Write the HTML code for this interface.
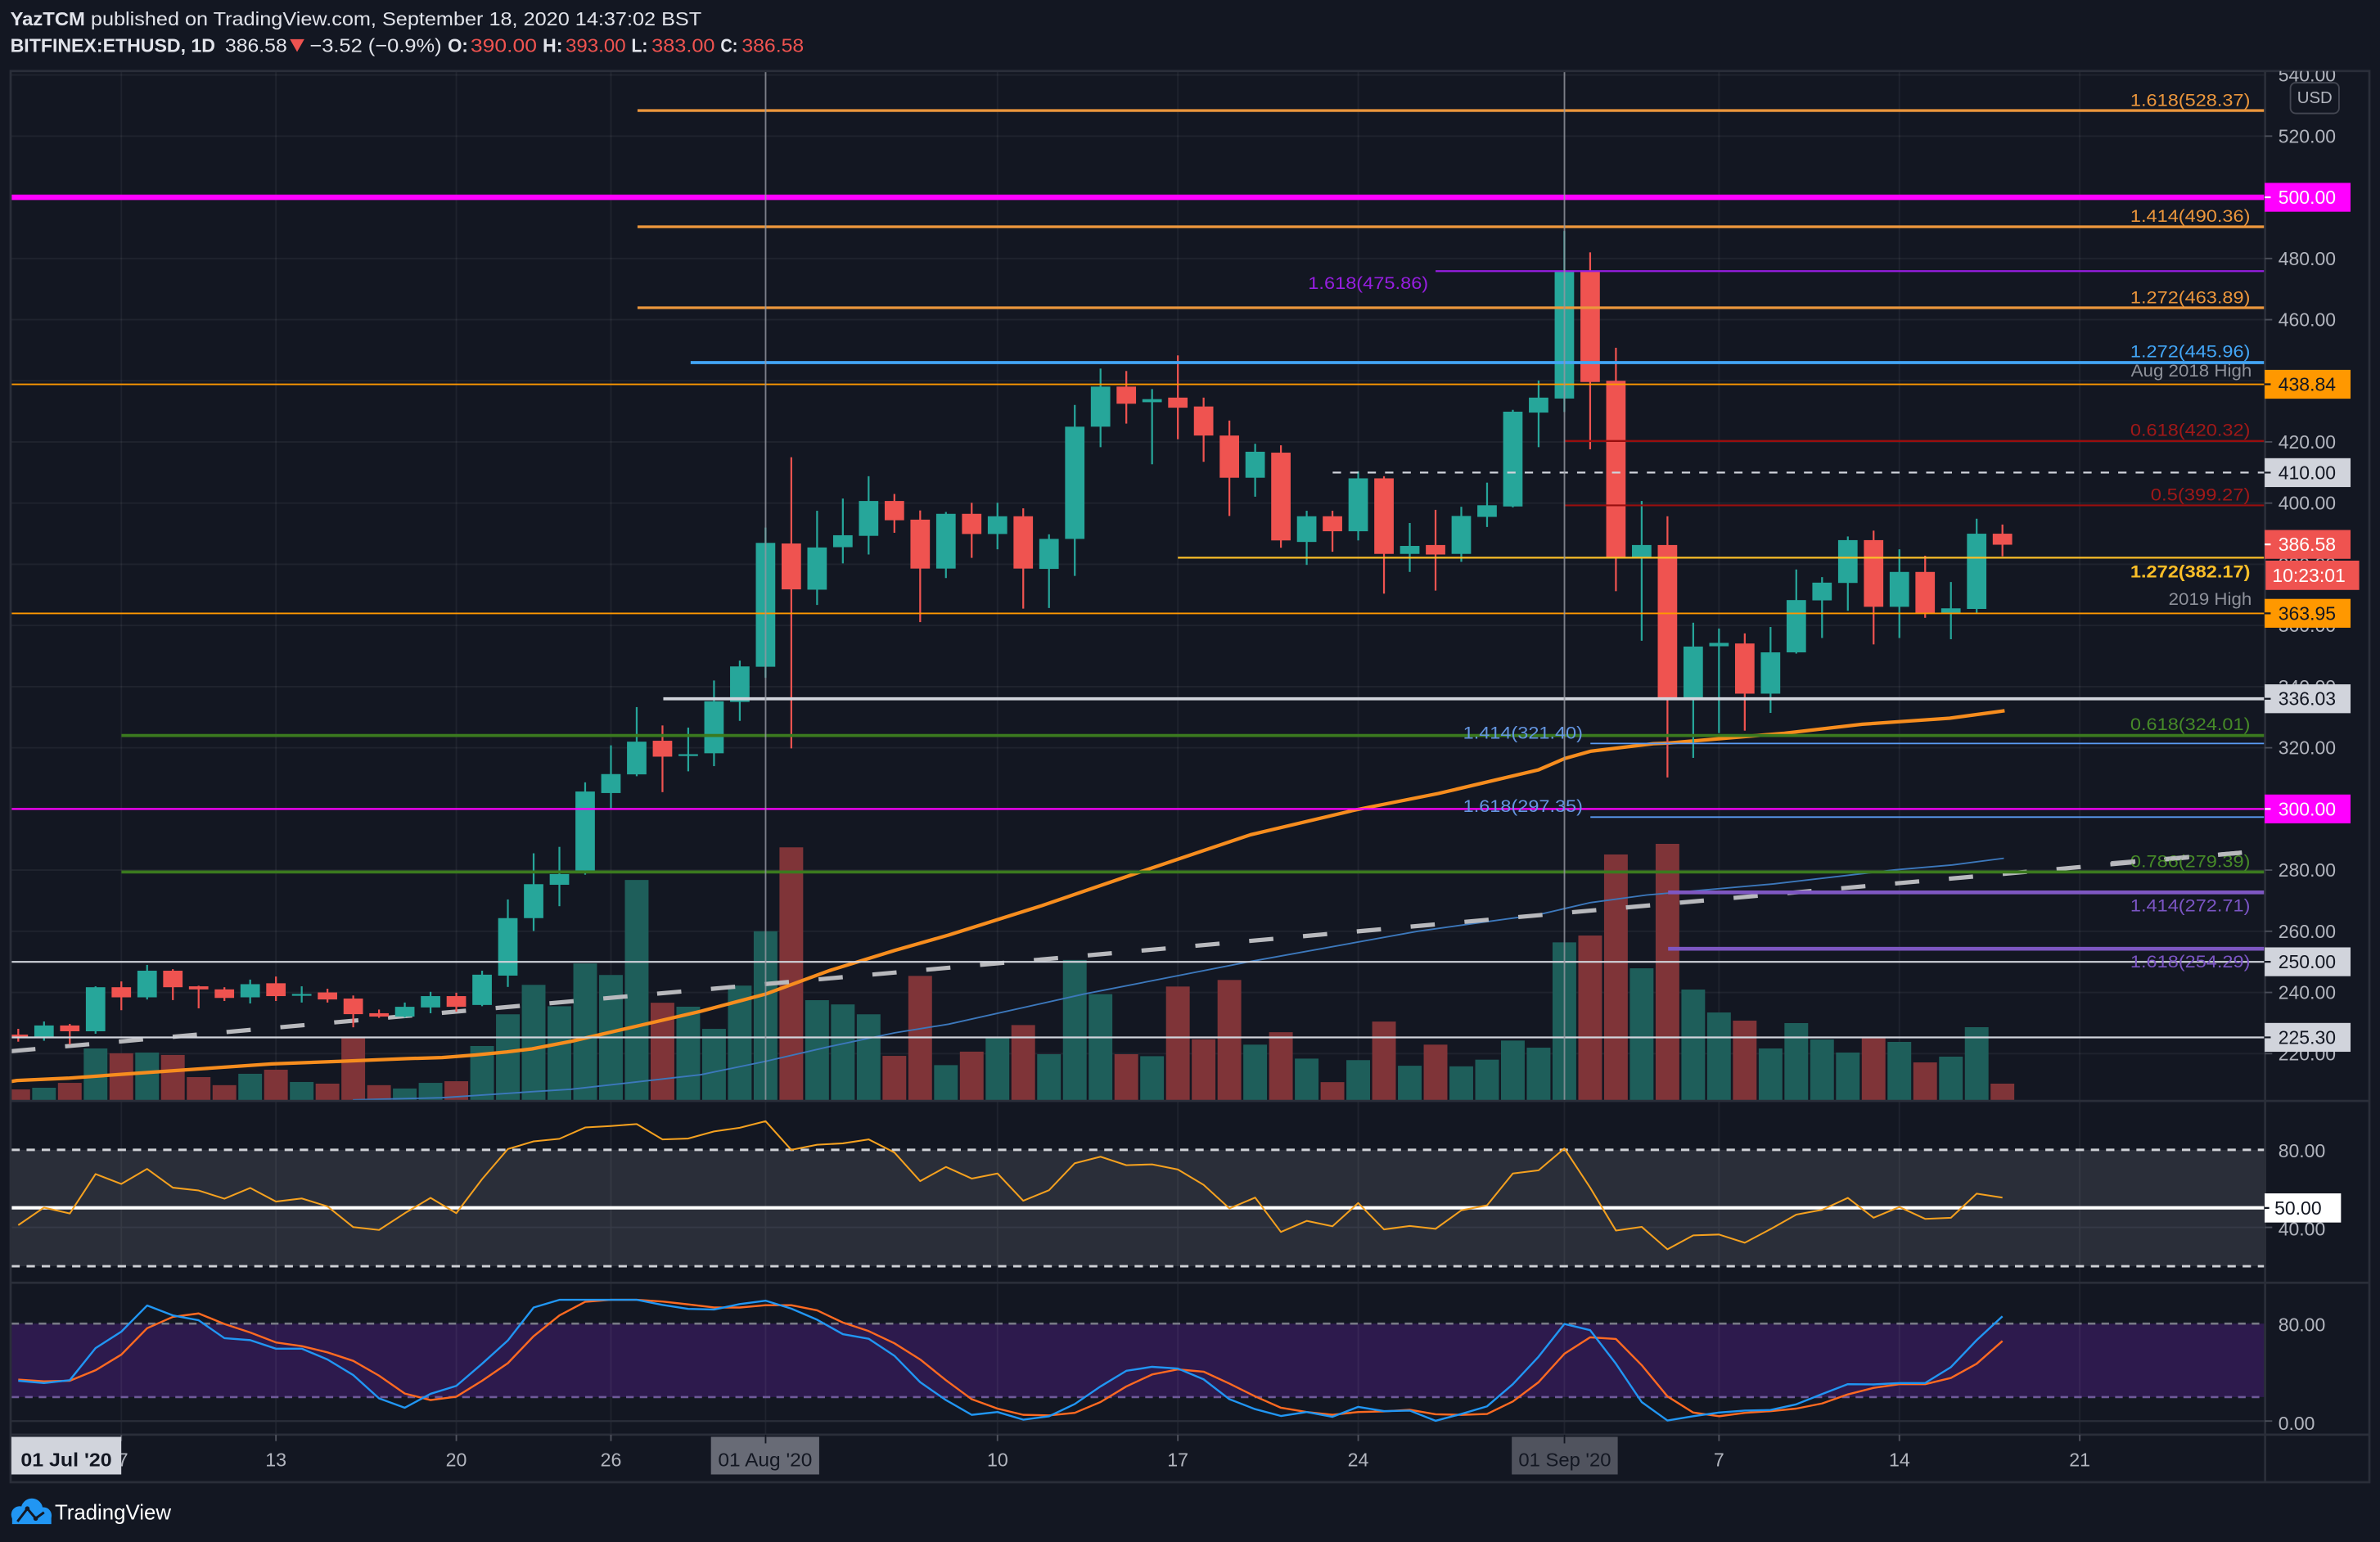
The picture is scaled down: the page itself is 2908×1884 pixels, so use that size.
<!DOCTYPE html>
<html><head><meta charset="utf-8">
<style>
html,body{margin:0;padding:0;background:#131722;overflow:hidden;}
svg{display:block}
text{font-family:"Liberation Sans",sans-serif;}
</style></head>
<body>
<svg id="c" width="2908" height="1884" viewBox="0 0 1568 1016" preserveAspectRatio="none">
<rect x="0" y="0" width="1568" height="1016" fill="#131722"/>
<defs>
<clipPath id="mp"><rect x="7.5" y="46.8" width="1484.5" height="678.6"/></clipPath>
<clipPath id="ip"><rect x="7.5" y="725.4" width="1484.5" height="219.9"/></clipPath>
<clipPath id="ax"><rect x="1492" y="46.8" width="69" height="930"/></clipPath>
</defs>

<!-- header -->
<text x="6.8" y="16.7" font-size="12.5" font-weight="bold" fill="#e1e3ea" textLength="49.2" lengthAdjust="spacingAndGlyphs">YazTCM</text>
<text x="59.8" y="16.7" font-size="12.5" fill="#e1e3ea" textLength="402.4" lengthAdjust="spacingAndGlyphs">published on TradingView.com, September 18, 2020 14:37:02 BST</text>
<text x="6.8" y="34.2" font-size="12.5" font-weight="bold" fill="#e1e3ea" textLength="135" lengthAdjust="spacingAndGlyphs">BITFINEX:ETHUSD, 1D</text>
<text x="148.3" y="34.2" font-size="12.5" fill="#e1e3ea" textLength="40.8" lengthAdjust="spacingAndGlyphs">386.58</text>
<polygon points="191,25.8 200.5,25.8 195.75,34.2" fill="#ef5350"/>
<text x="204" y="34.2" font-size="12.5" fill="#e1e3ea" textLength="87" lengthAdjust="spacingAndGlyphs">−3.52 (−0.9%)</text>
<text x="295" y="34.2" font-size="12.5" font-weight="bold" fill="#e1e3ea" textLength="13.3" lengthAdjust="spacingAndGlyphs">O:</text>
<text x="310" y="34.2" font-size="12.5" fill="#ef5350" textLength="43.7" lengthAdjust="spacingAndGlyphs">390.00</text>
<text x="357.5" y="34.2" font-size="12.5" font-weight="bold" fill="#e1e3ea" textLength="13.2" lengthAdjust="spacingAndGlyphs">H:</text>
<text x="372.6" y="34.2" font-size="12.5" fill="#ef5350" textLength="39.7" lengthAdjust="spacingAndGlyphs">393.00</text>
<text x="416" y="34.2" font-size="12.5" font-weight="bold" fill="#e1e3ea" textLength="10.7" lengthAdjust="spacingAndGlyphs">L:</text>
<text x="429.3" y="34.2" font-size="12.5" fill="#ef5350" textLength="41.7" lengthAdjust="spacingAndGlyphs">383.00</text>
<text x="474.7" y="34.2" font-size="12.5" font-weight="bold" fill="#e1e3ea" textLength="11.3" lengthAdjust="spacingAndGlyphs">C:</text>
<text x="488.7" y="34.2" font-size="12.5" fill="#ef5350" textLength="40.9" lengthAdjust="spacingAndGlyphs">386.58</text>

<!-- bands -->
<rect x="7.5" y="757.6" width="1484.5" height="76.7" fill="#2a2e39"/>
<rect x="7.5" y="872.1" width="1484.5" height="48.4" fill="#2d1a4d"/>

<g id="grid"></g>

<!-- RSI / stoch static lines -->
<line x1="7.5" y1="808.7" x2="1492" y2="808.7" stroke="#363a46" stroke-width="1"/>
<line x1="7.5" y1="757.6" x2="1492" y2="757.6" stroke="#cfd1d6" stroke-width="1.6" stroke-dasharray="5.5 4.5"/>
<line x1="7.5" y1="834.3" x2="1492" y2="834.3" stroke="#cfd1d6" stroke-width="1.6" stroke-dasharray="5.5 4.5"/>
<line x1="7.5" y1="795.8" x2="1492" y2="795.8" stroke="#ffffff" stroke-width="2.2"/>
<line x1="7.5" y1="936.3" x2="1492" y2="936.3" stroke="#2a2e39" stroke-width="1.2"/>
<line x1="7.5" y1="872.1" x2="1492" y2="872.1" stroke="#787b86" stroke-width="1.4" stroke-dasharray="5 4"/>
<line x1="7.5" y1="920.5" x2="1492" y2="920.5" stroke="#6f5a9a" stroke-width="1.4" stroke-dasharray="5 4"/>

<g clip-path="url(#ip)"><g id="ind"></g></g>

<g clip-path="url(#mp)">
  <g id="vol"></g>
  <g id="ma"></g>
  <g id="cdl"></g>
  <!-- levels -->
  <line x1="420" y1="72.83" x2="1492" y2="72.83" stroke="#eb963c" stroke-width="1.8"/>
  <line x1="7.5" y1="130" x2="1492" y2="130" stroke="#ff00ff" stroke-width="3.6"/>
  <line x1="420" y1="149.42" x2="1492" y2="149.42" stroke="#eb963c" stroke-width="1.8"/>
  <line x1="945.8" y1="178.64" x2="1492" y2="178.64" stroke="#961ee0" stroke-width="1.2"/>
  <line x1="420" y1="202.76" x2="1492" y2="202.76" stroke="#eb963c" stroke-width="1.8"/>
  <line x1="455" y1="238.89" x2="1492" y2="238.89" stroke="#42a5f5" stroke-width="2"/>
  <line x1="7.5" y1="253.24" x2="1492" y2="253.24" stroke="#ff9800" stroke-width="1"/>
  <line x1="1031" y1="290.55" x2="1492" y2="290.55" stroke="#980f0f" stroke-width="1.3"/>
  <line x1="878" y1="311.35" x2="1492" y2="311.35" stroke="#d1d4dc" stroke-width="1.2" stroke-dasharray="5.5 6"/>
  <line x1="1031" y1="332.97" x2="1492" y2="332.97" stroke="#980f0f" stroke-width="1.1"/>
  <line x1="776" y1="367.43" x2="1492" y2="367.43" stroke="#fabe28" stroke-width="1.2"/>
  <line x1="7.5" y1="404.14" x2="1492" y2="404.14" stroke="#ff9800" stroke-width="1"/>
  <line x1="437" y1="460.4" x2="1492" y2="460.4" stroke="#d1d4dc" stroke-width="2"/>
  <line x1="80" y1="484.62" x2="1492" y2="484.62" stroke="#3b7a1f" stroke-width="2"/>
  <line x1="1047.8" y1="489.87" x2="1492" y2="489.87" stroke="#5b9cf6" stroke-width="1"/>
  <line x1="7.5" y1="533" x2="1492" y2="533" stroke="#ff00ff" stroke-width="1.2"/>
  <line x1="1047.8" y1="538.34" x2="1492" y2="538.34" stroke="#5b9cf6" stroke-width="1"/>
  <line x1="80" y1="574.53" x2="1492" y2="574.53" stroke="#3b7a1f" stroke-width="2"/>
  <line x1="1099" y1="587.99" x2="1492" y2="587.99" stroke="#7e57c2" stroke-width="2.5"/>
  <line x1="1099" y1="625.11" x2="1492" y2="625.11" stroke="#7e57c2" stroke-width="2.5"/>
  <line x1="7.5" y1="633.75" x2="1492" y2="633.75" stroke="#d1d4dc" stroke-width="1.2"/>
  <line x1="7.5" y1="683.52" x2="1492" y2="683.52" stroke="#d1d4dc" stroke-width="1.2"/>
  <!-- vertical marker lines -->
  <line x1="504.4" y1="46.8" x2="504.4" y2="725.4" stroke="#9598a1" stroke-width="1" opacity="0.8"/>
  <line x1="1030.7" y1="46.8" x2="1030.7" y2="725.4" stroke="#9598a1" stroke-width="1" opacity="0.8"/>
  <!-- fib labels -->
  <g font-size="11.5" text-anchor="end" dominant-baseline="central">
    <text x="1482.5" y="66.1" fill="#eb963c" textLength="79" lengthAdjust="spacingAndGlyphs">1.618(528.37)</text>
    <text x="1482.5" y="142.4" fill="#eb963c" textLength="79" lengthAdjust="spacingAndGlyphs">1.414(490.36)</text>
    <text x="1482.5" y="196.1" fill="#eb963c" textLength="79" lengthAdjust="spacingAndGlyphs">1.272(463.89)</text>
    <text x="1482.5" y="231.7" fill="#42a5f5" textLength="79" lengthAdjust="spacingAndGlyphs">1.272(445.96)</text>
    <text x="1483.5" y="244.3" fill="#8e919a" textLength="79.6" lengthAdjust="spacingAndGlyphs">Aug 2018 High</text>
    <text x="1482.5" y="283.5" fill="#a01818" textLength="79" lengthAdjust="spacingAndGlyphs">0.618(420.32)</text>
    <text x="1482.5" y="326" fill="#a01818" textLength="65.6" lengthAdjust="spacingAndGlyphs">0.5(399.27)</text>
    <text x="1482.5" y="376.6" fill="#fabe28" font-weight="bold" textLength="79" lengthAdjust="spacingAndGlyphs">1.272(382.17)</text>
    <text x="1483.5" y="394.7" fill="#8e919a" textLength="54.8" lengthAdjust="spacingAndGlyphs">2019 High</text>
    <text x="1482.5" y="477.2" fill="#468a28" textLength="79" lengthAdjust="spacingAndGlyphs">0.618(324.01)</text>
    <text x="1482.5" y="567.7" fill="#468a28" textLength="79" lengthAdjust="spacingAndGlyphs">0.786(279.39)</text>
    <text x="1482.5" y="596.8" fill="#7b55c4" textLength="79" lengthAdjust="spacingAndGlyphs">1.414(272.71)</text>
    <text x="1482.5" y="633.7" fill="#7b55c4" textLength="79" lengthAdjust="spacingAndGlyphs">1.618(254.29)</text>
  </g>
  <g font-size="11.5" dominant-baseline="central">
    <text x="861.8" y="186.6" fill="#961ee0" textLength="79.2" lengthAdjust="spacingAndGlyphs">1.618(475.86)</text>
    <text x="963.9" y="482.9" fill="#6496e1" textLength="78.9" lengthAdjust="spacingAndGlyphs">1.414(321.40)</text>
    <text x="963.9" y="531.2" fill="#6496e1" textLength="78.9" lengthAdjust="spacingAndGlyphs">1.618(297.35)</text>
  </g>
  <g id="dash"></g>
</g>

<!-- frame / separators -->
<g fill="none" stroke="#2a2e39" stroke-width="1.5">
  <rect x="7" y="46.8" width="1554" height="929.8"/>
  <line x1="1492.3" y1="46.8" x2="1492.3" y2="976.6"/>
  <line x1="7" y1="725.4" x2="1561" y2="725.4"/>
  <line x1="7" y1="845.2" x2="1561" y2="845.2"/>
  <line x1="7" y1="945.3" x2="1561" y2="945.3"/>
</g>

<!-- price axis -->
<g clip-path="url(#ax)">
<g font-size="12.4" fill="#b2b5be" dominant-baseline="central">
  <text x="1501" y="49.4">540.00</text>
  <text x="1501" y="89.7">520.00</text>
  <text x="1501" y="170.3">480.00</text>
  <text x="1501" y="210.6">460.00</text>
  <text x="1501" y="291.2">420.00</text>
  <text x="1501" y="331.5">400.00</text>
  <text x="1501" y="371.8">380.00</text>
  <text x="1501" y="412.1">360.00</text>
  <text x="1501" y="452.4">340.00</text>
  <text x="1501" y="492.7">320.00</text>
  <text x="1501" y="573.3">280.00</text>
  <text x="1501" y="613.6">260.00</text>
  <text x="1501" y="653.9">240.00</text>
  <text x="1501" y="694.2">220.00</text>
  <text x="1501" y="758.2">80.00</text>
  <text x="1501" y="809.7">40.00</text>
  <text x="1501" y="872.9">80.00</text>
  <text x="1501" y="937.8">0.00</text>
</g>
<g stroke="#4a4e59" stroke-width="1">
  <line x1="1492" y1="89.7" x2="1497" y2="89.7"/><line x1="1492" y1="170.3" x2="1497" y2="170.3"/>
  <line x1="1492" y1="210.6" x2="1497" y2="210.6"/><line x1="1492" y1="291.2" x2="1497" y2="291.2"/>
  <line x1="1492" y1="331.5" x2="1497" y2="331.5"/><line x1="1492" y1="492.7" x2="1497" y2="492.7"/>
  <line x1="1492" y1="573.3" x2="1497" y2="573.3"/><line x1="1492" y1="613.6" x2="1497" y2="613.6"/>
  <line x1="1492" y1="653.9" x2="1497" y2="653.9"/><line x1="1492" y1="694.2" x2="1497" y2="694.2"/>
  <line x1="1492" y1="808.7" x2="1497" y2="808.7"/><line x1="1492" y1="936.3" x2="1497" y2="936.3"/>
</g>
<rect x="1509" y="54.5" width="32" height="20.2" rx="3.5" fill="#131722" stroke="#434651" stroke-width="1"/>
<text x="1525" y="64.8" font-size="11" fill="#b2b5be" text-anchor="middle" dominant-baseline="central">USD</text>
<!-- boxes -->
<g font-size="12.4" dominant-baseline="central">
  <rect x="1492" y="120.5" width="56.6" height="19" fill="#ff00ff"/><text x="1501" y="130" fill="#ffffff">500.00</text>
  <rect x="1492" y="243.7" width="56.6" height="19" fill="#ff9800"/><text x="1501" y="253.2" fill="#131722">438.84</text>
  <rect x="1492" y="301.9" width="56.6" height="19" fill="#d1d4dc"/><text x="1501" y="311.4" fill="#131722">410.00</text>
  <rect x="1492" y="349.2" width="56.6" height="19" fill="#ef5350"/><text x="1501" y="358.7" fill="#ffffff">386.58</text>
  <rect x="1492.6" y="369.4" width="61.7" height="19.3" fill="#ef5350"/><text x="1497" y="379" fill="#ffffff">10:23:01</text>
  <rect x="1492" y="394.6" width="56.6" height="19" fill="#ff9800"/><text x="1501" y="404.1" fill="#131722">363.95</text>
  <rect x="1492" y="450.9" width="56.6" height="19" fill="#d1d4dc"/><text x="1501" y="460.4" fill="#131722">336.03</text>
  <rect x="1492" y="523.5" width="56.6" height="19" fill="#ff00ff"/><text x="1501" y="533" fill="#ffffff">300.00</text>
  <rect x="1492" y="624.2" width="56.6" height="19" fill="#d1d4dc"/><text x="1501" y="633.7" fill="#131722">250.00</text>
  <rect x="1492" y="674" width="56.6" height="19" fill="#d1d4dc"/><text x="1501" y="683.5" fill="#131722">225.30</text>
  <rect x="1491.3" y="786.3" width="51" height="19.2" fill="#ffffff"/><text x="1498.5" y="795.9" fill="#131722">50.00</text>
</g>
<g stroke-width="1.2">
  <line x1="1492" y1="130" x2="1496" y2="130" stroke="#ffffff"/>
  <line x1="1492" y1="253.2" x2="1496" y2="253.2" stroke="#131722"/>
  <line x1="1492" y1="311.4" x2="1496" y2="311.4" stroke="#131722"/>
  <line x1="1492" y1="358.7" x2="1496" y2="358.7" stroke="#ffffff"/>
  <line x1="1492" y1="404.1" x2="1496" y2="404.1" stroke="#131722"/>
  <line x1="1492" y1="460.4" x2="1496" y2="460.4" stroke="#131722"/>
  <line x1="1492" y1="533" x2="1496" y2="533" stroke="#ffffff"/>
  <line x1="1492" y1="633.7" x2="1496" y2="633.7" stroke="#131722"/>
  <line x1="1492" y1="683.5" x2="1496" y2="683.5" stroke="#131722"/>
  <line x1="1491.3" y1="795.9" x2="1495" y2="795.9" stroke="#131722"/>
</g>
</g>

<!-- time axis -->
<g id="tticks"></g>
<g font-size="12.5" fill="#b2b5be" text-anchor="middle">
  <text x="81" y="966.2">7</text>
  <text x="181.8" y="966.2">13</text>
  <text x="300.6" y="966.2">20</text>
  <text x="402.5" y="966.2">26</text>
  <text x="657.2" y="966.2">10</text>
  <text x="776" y="966.2">17</text>
  <text x="894.8" y="966.2">24</text>
  <text x="1132.5" y="966.2">7</text>
  <text x="1251.4" y="966.2">14</text>
  <text x="1370.2" y="966.2">21</text>
</g>
<rect x="7.5" y="946.7" width="72.4" height="24.8" fill="#d1d4dc"/>
<text x="43.7" y="966.2" font-size="12.5" font-weight="bold" fill="#131722" text-anchor="middle" textLength="60" lengthAdjust="spacingAndGlyphs">01 Jul '20</text>
<rect x="468.4" y="946.7" width="71.3" height="24.8" fill="#686b76"/>
<text x="504.1" y="966.2" font-size="12.5" fill="#131722" text-anchor="middle" textLength="62" lengthAdjust="spacingAndGlyphs">01 Aug '20</text>
<rect x="996" y="946.7" width="69.8" height="24.8" fill="#50535e"/>
<text x="1030.9" y="966.2" font-size="12.5" fill="#131722" text-anchor="middle" textLength="61" lengthAdjust="spacingAndGlyphs">01 Sep '20</text>
<line x1="504.4" y1="945.3" x2="504.4" y2="951" stroke="#131722" stroke-width="1"/>
<line x1="1030.7" y1="945.3" x2="1030.7" y2="951" stroke="#131722" stroke-width="1"/>

<!-- logo -->
<g>
  <circle cx="13" cy="998" r="5.6" fill="#2196f3"/>
  <circle cx="21" cy="994.5" r="7.2" fill="#2196f3"/>
  <circle cx="28.6" cy="998.5" r="5.4" fill="#2196f3"/>
  <rect x="8" y="998" width="25.8" height="6.2" fill="#2196f3"/>
  <polyline points="11.5,1002.5 18,994 23.5,1000.5 29,996.5" fill="none" stroke="#131722" stroke-width="1.6"/>
  <circle cx="18" cy="994" r="1.5" fill="#131722"/>
  <circle cx="23.5" cy="1000.5" r="1.5" fill="#131722"/>
</g>
<text x="36.1" y="1001.3" font-size="14" fill="#ffffff" textLength="76.6" lengthAdjust="spacingAndGlyphs">TradingView</text>
</svg>

<script>
(function(){
var svg=document.getElementById('c'),NS=svg.namespaceURI;
function el(p,t,a){var e=document.createElementNS(NS,t);for(var k in a)e.setAttribute(k,a[k]);p.appendChild(e);return e;}
function G(id){return document.getElementById(id);}
var X0=181.8,DX=16.977;
function xi(i){return X0+DX*(i-10);}
function py(p){return 130+(500-p)*2.015;}

/* grid */
var grid=G('grid');
var gc='rgba(255,255,255,0.055)';
for(var p=220;p<=540;p+=20){var y=py(p);el(grid,'line',{x1:7.5,y1:y,x2:1492,y2:y,stroke:gc,'stroke-width':1});}
var vd=[-6,0,7,13,19,28,35,42,50,56,63,70];
var tt=G('tticks');
vd.forEach(function(d){var x=X0+DX*d;
  el(grid,'line',{x1:x,y1:46.8,x2:x,y2:945.3,stroke:gc,'stroke-width':1});
  el(tt,'line',{x1:x,y1:945.3,x2:x,y2:949.5,stroke:'#50535e','stroke-width':1});
});

var C=[
[226.2,228.1,223.9,225.1],[225.1,230.5,224.2,229.2],[229.2,229.7,223.0,227.3],[227.3,242.0,226.5,241.7],
[241.7,243.6,234.2,238.4],[238.4,249.0,237.7,247.1],[247.1,247.6,237.5,241.7],[242.0,242.2,234.8,241.0],
[241.0,241.7,237.2,238.2],[238.4,244.2,236.4,242.7],[243.0,245.2,237.2,238.8],[239.1,242.0,236.7,239.5],
[240.0,241.2,236.7,237.7],[238.0,239.0,228.6,232.9],[233.2,234.4,231.7,232.1],[232.1,236.7,231.8,235.3],
[235.1,240.2,233.2,238.8],[238.8,239.9,233.7,235.3],[235.9,247.1,235.5,245.8],[245.5,270.4,241.8,264.3],
[264.3,285.5,260.1,275.4],[275.2,287.6,268.2,278.7],[279.9,308.7,278.5,305.7],[305.2,320.8,300.0,311.4],
[311.3,333.3,310.7,322.0],[322.3,327.3,305.5,317.1],[317.5,326.6,312.3,317.9],[318.2,342.0,314.0,335.2],
[335.0,348.5,328.8,346.6],
[346.5,392.0,342.9,387.0],[386.8,415.0,319.8,371.8],[371.7,397.5,366.7,385.5],[385.6,401.5,380.3,389.5],
[389.3,408.8,383.2,400.7],[400.7,403.0,390.3,394.4],[394.6,397.6,361.1,378.6],[378.6,397.1,375.5,396.5],
[396.5,400.1,382.1,389.9],[389.9,400.1,384.9,395.7],[395.7,398.3,365.5,378.6],[378.5,389.8,365.7,388.3],
[388.3,432.1,376.2,425.0],[425.0,444.0,418.3,438.1],[438.1,443.2,426.0,432.5],[433.0,437.3,412.7,434.0],
[434.5,448.3,420.9,431.2],[431.6,434.5,413.5,422.1],[422.1,427.0,395.8,408.3],[408.3,419.4,402.1,416.8],
[416.5,418.9,385.4,387.8],[387.3,397.5,379.8,395.7],[395.7,397.5,384.1,390.8],[390.8,410.4,387.8,408.1],
[408.1,408.8,370.4,383.4],[383.4,393.5,377.5,386.0],[386.3,397.8,371.4,383.2],[383.4,398.8,380.8,395.8],
[395.5,406.7,392.2,399.3],[398.9,430.5,398.6,429.9],[429.6,440.1,418.3,434.5],
[434.2,489.0,429.8,475.9],[475.9,482.0,417.6,439.6],[440.0,450.8,371.2,382.1],[382.1,400.7,355.0,386.3],
[386.3,395.7,310.3,336.4],[336.4,360.9,316.7,353.1],[353.2,359.0,324.8,354.3],[354.1,357.4,325.6,337.7],
[337.7,359.5,331.4,351.2],[351.2,378.3,350.8,368.3],[368.2,375.8,355.9,374.0],[373.9,389.1,364.8,387.9],
[387.9,391.0,353.8,366.1],[366.1,384.9,355.9,377.5],[377.5,382.8,362.5,364.0],[364.2,374.2,355.5,365.6],
[365.4,394.9,364.2,390.0],[390.0,393.0,382.6,386.4]
];
var V=[717.8,716.7,713.5,690.8,694,693.5,695.1,709.7,715,707.5,704.8,712.9,714,683.3,715,717.2,713.5,712.4,689.2,668.3,648.9,663,634.8,642.4,579.8,660.7,663.3,677.9,649.4,
613.6,558.3,659,661.8,668.3,695.7,643,701.8,692.9,683.3,675.4,694.6,632.5,655,694.6,695.9,650,684.7,645.7,688.3,680.1,697.5,713,698.5,673.1,702.2,688.3,702.6,698.2,685.6,690.3,
620.9,616.4,563,638,556,652,667.1,672.5,690.8,674.1,684.9,693.5,683.3,686.5,700,696.2,676.8,714];

var vol=G('vol'),cdl=G('cdl');
for(var i=0;i<C.length;i++){
  var o=C[i][0],h=C[i][1],l=C[i][2],c=C[i][3],up=c>=o,x=xi(i);
  el(vol,'rect',{x:(x-7.8).toFixed(2),y:V[i],width:15.6,height:(724.8-V[i]).toFixed(2),fill:up?'#1e5e5a':'#7f3438'});
  var col=up?'#26a69a':'#ef5350';
  el(cdl,'rect',{x:(x-0.6).toFixed(2),y:py(h).toFixed(2),width:1.2,height:(py(l)-py(h)).toFixed(2),fill:col});
  var t=py(Math.max(o,c)),b=py(Math.min(o,c));
  el(cdl,'rect',{x:(x-6.4).toFixed(2),y:t.toFixed(2),width:12.8,height:Math.max(b-t,1.2).toFixed(2),fill:col});
}

/* moving averages */
var ma=G('ma');
var OR=[[7.5,712.5],[11.2,711.9],[44.7,710.4],[89.4,707.2],[134.1,704.1],[178.9,701.0],[223.6,699.3],[268.3,697.5],[291.2,696.8],[313,695.1],[333.8,693.1],[350.5,691.1],[376.4,686.1],[419.1,676.2],[461.7,666.3],[504.3,655.0],[546.8,639.4],[589.5,626.2],[625,616.1],[686.4,596.7],[752.4,574.1],[823.9,550.0],[892.7,533.7],[947.7,522.8],[1013.7,507.2],[1030.8,499.8],[1047.8,495.0],[1089.2,490.0],[1099,489.6],[1175.7,483.1],[1226.9,477.2],[1284.5,473.2],[1320.7,468.3]];
var BL=[[232.5,724.7],[291,723.3],[350.5,719.3],[376.4,717.7],[461.7,708.1],[504.3,699.3],[546.8,689.5],[589.5,680.5],[625,674.8],[714,655],[823.9,633.5],[934,613.6],[1013.7,602.6],[1047.8,594.7],[1084.9,589.7],[1168.5,582.4],[1249,573.1],[1286.2,569.9],[1320.2,565.5]];
function pts(a){return a.map(function(q){return q[0]+','+q[1];}).join(' ');}
el(ma,'polyline',{points:pts(BL),fill:'none',stroke:'#3c78bc','stroke-width':1});
el(ma,'polyline',{points:pts(OR),fill:'none',stroke:'#f78d1e','stroke-width':2.3,'stroke-linejoin':'round'});
el(ma,'line',{x1:7.4,y1:692.6,x2:1477,y2:561.8,stroke:'#b8b9bd','stroke-width':2.8,'stroke-dasharray':'16 19.6'});
/* dashed overlay on label area */
el(G('dash'),'line',{x1:1388.6,y1:569.0,x2:1477,y2:561.8,stroke:'#b8b9bd','stroke-width':2.8,'stroke-dasharray':'16 19.6','stroke-dashoffset':'-2.3',opacity:0.9});

/* indicators */
var ind=G('ind');
function iy(z){return 722.65+z*0.18711;}
var R=[452,390,411,272,307,254,320,330,359,321,369,358,386,459,469,410,356,410,290,184,157,148,108,103,96,150,147,122,109,86,187,169,164,150,196,297,247,288,270,366,329,234,211,241,238,256,
310,393,355,476,437,456,374,467,455,465,400,382,270,259,182,320,471,458,537,488,485,514,466,415,398,356,426,388,430,426,341,355];
var K=[1000,1008,998,885,827,735,770,787,850,857,887,887,925,980,1062,1095,1046,1018,940,858,742,715,715,715,715,733,747,749,730,718,746,785,836,852,912,1005,1068,1120,1110,1137,1125,1082,1020,965,951,957,
995,1065,1100,1124,1110,1127,1092,1107,1105,1141,1117,1090,1012,915,800,822,940,1075,1140,1125,1112,1105,1103,1083,1047,1012,1013,1008,1008,952,857,773];
var D=[996,1002,1000,963,908,815,775,763,800,830,865,878,900,930,982,1045,1068,1056,1000,938,843,770,722,715,715,721,731,742,742,734,734,752,795,825,868,925,998,1065,1098,1120,1122,1113,1075,1020,978,960,
968,1010,1055,1095,1110,1120,1110,1108,1102,1118,1120,1117,1073,1005,905,847,853,945,1055,1112,1125,1113,1107,1098,1080,1048,1025,1012,1012,990,940,860];
function ipts(a){var s=[];for(var i=0;i<a.length;i++){s.push(xi(i).toFixed(2)+','+iy(a[i]).toFixed(2));}return s.join(' ');}
el(ind,'polyline',{points:ipts(R),fill:'none',stroke:'#f5a11f','stroke-width':1.1,'stroke-linejoin':'round'});
el(ind,'polyline',{points:ipts(D),fill:'none',stroke:'#ff6a21','stroke-width':1.3,'stroke-linejoin':'round'});
el(ind,'polyline',{points:ipts(K),fill:'none',stroke:'#2196f3','stroke-width':1.3,'stroke-linejoin':'round'});
})();
</script>
</body></html>
